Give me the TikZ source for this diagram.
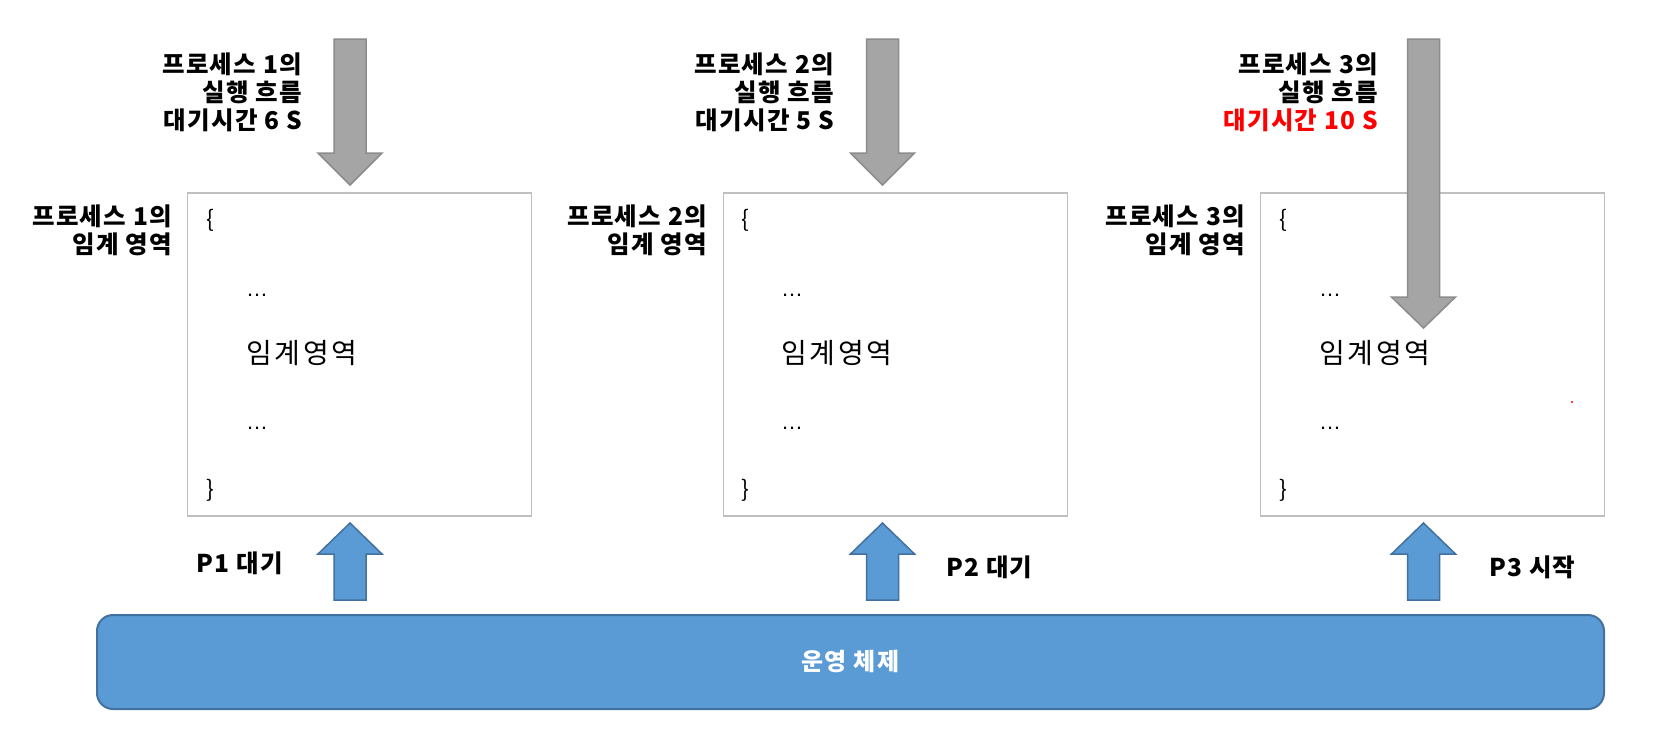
\documentclass[tikz,border=0pt]{standalone}
\usepackage{fontspec}
\setmainfont{Noto Sans CJK KR}
\newfontfamily\latfont{Liberation Sans}
\definecolor{boxgray}{HTML}{BFBFBF}
\definecolor{arrgray}{HTML}{A5A5A5}
\definecolor{arrgrayd}{HTML}{8C8C8C}
\definecolor{osblue}{HTML}{5B9BD5}
\definecolor{osblued}{HTML}{41719C}
\definecolor{redtxt}{HTML}{FF0000}
\newcommand\mydownarr[4]{\draw[grayarr] ({#1-16},#2) -- ({#1+16},#2) -- ({#1+16},#3) -- ({#1+32},#3) -- (#1,#4) -- ({#1-32},#3) -- ({#1-16},#3) -- cycle;}
\newcommand\myuparr[1]{\draw[bluearr] ({#1-16},600) -- ({#1+16},600) -- ({#1+16},554) -- ({#1+32},554) -- (#1,523) -- ({#1-32},554) -- ({#1-16},554) -- cycle;}
\begin{document}
\begin{tikzpicture}[x=1pt,y=-1pt,
  lbl/.style={font=\bfseries\fontsize{24.5}{28}\selectfont\addfontfeature{LetterSpace=5}, align=right, inner sep=0, anchor=east},
  plbl/.style={font=\bfseries\fontsize{24.5}{28}\selectfont\addfontfeature{LetterSpace=5}, inner sep=0},
  cbox/.style={draw=boxgray, line width=1.5pt, minimum width=344pt, minimum height=323pt, inner sep=0},
  intxt/.style={font=\fontsize{23}{27}\selectfont, inner sep=0, anchor=west},
  dots/.style={font=\latfont\fontsize{22}{26}\selectfont, inner sep=0, anchor=west},
  bigtxt/.style={font=\fontsize{28}{32}\selectfont\addfontfeature{LetterSpace=10}, inner sep=0, anchor=west},
  grayarr/.style={fill=arrgray, draw=arrgrayd, line width=1.5pt},
  bluearr/.style={fill=osblue, draw=osblued, line width=1.5pt},
  osbar/.style={fill=osblue, draw=osblued, line width=2pt, rounded corners=16pt, inner sep=0,
    minimum width=1507pt, minimum height=94pt, text=white, font=\bfseries\fontsize{24}{28}\selectfont\addfontfeature{LetterSpace=6}}
]
\useasboundingbox[fill=white] (0,0) rectangle (1666,734);

% boxes
\node[cbox] (box1) at (359.5,354.5) {};
\node[cbox] (box2) at (895.5,354.5) {};
\node[cbox] (box3) at (1432.5,354.5) {};

% box contents
\foreach \b/\x in {1/188,2/723,3/1261}{
  \node[intxt] (ob\b) at (\x+18,220) {\{};
  \node[dots] (da\b) at (\x+58,295) {…};
  \node[bigtxt] (cs\b) at (\x+58,353) {임계영역};
  \node[dots] (db\b) at (\x+58,428) {…};
  \node[intxt] (cb\b) at (\x+18,490) {\}};
}

% left labels
\node[lbl] (crit1) at (172,230.5) {프로세스 1의\\임계 영역};
\node[lbl] (crit2) at (707,230.5) {프로세스 2의\\임계 영역};
\node[lbl] (crit3) at (1245,230.5) {프로세스 3의\\임계 영역};

% top labels
\node[lbl] (flow1) at (302,92) {프로세스 1의\\실행 흐름\\대기시간 6 S};
\node[lbl] (flow2) at (834,92) {프로세스 2의\\실행 흐름\\대기시간 5 S};
\node[lbl] (flow3) at (1378,92) {프로세스 3의\\실행 흐름\\\textcolor{redtxt}{대기시간 10 S}};

% gray arrows
\mydownarr{350}{39}{153}{185}
\mydownarr{882.5}{39}{153}{185}
\mydownarr{1423.5}{39}{297}{328}

% blue arrows
\myuparr{350}
\myuparr{882.5}
\myuparr{1423.5}

% bottom labels
\node[plbl, anchor=east] (p1) at (283,563) {P1 대기};
\node[plbl, anchor=west] (p2) at (946,567) {P2 대기};
\node[plbl, anchor=west] (p3) at (1489,567) {P3 시작};

% OS bar
\node[osbar] (os) at (850.5,662) {운영 체제};

% small red dot
\fill[redtxt] (1572,402) circle (1.1pt);
\end{tikzpicture}
\end{document}
